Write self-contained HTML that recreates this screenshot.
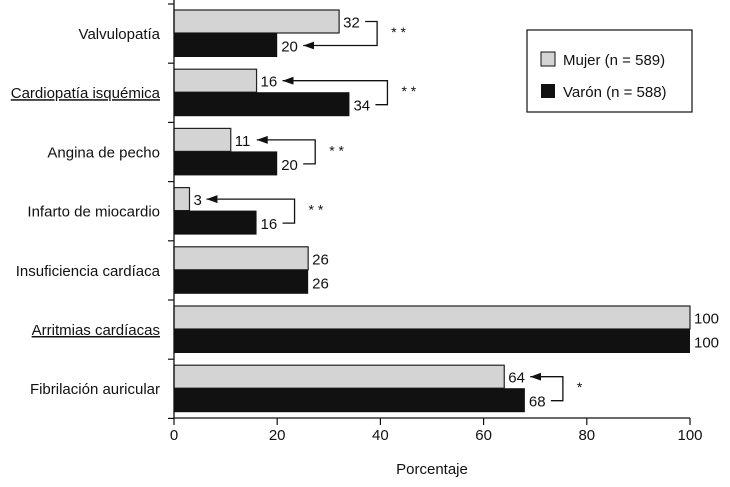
<!DOCTYPE html>
<html><head><meta charset="utf-8"><style>
body{margin:0;background:#fff}
svg text{font-family:"Liberation Sans Narrow","Liberation Sans",sans-serif;fill:#111}
</style></head><body>
<svg id="c" width="730" height="482"></svg>
<script>
const categories=["Valvulopatía","Cardiopatía isquémica","Angina de pecho","Infarto de miocardio","Insuficiencia cardíaca","Arritmias cardíacas","Fibrilación auricular"];
const mujer=[32,16,11,3,26,100,64];
const varon=[20,34,20,16,26,100,68];
const underlined=[false,true,false,false,false,true,false];
const sig=["**","**","**","**","","","*"];
const ticks=[0,20,40,60,80,100];
const svg=document.getElementById('c');
const NS="http://www.w3.org/2000/svg";
const x0=174,x1=690,top0=10,step=59.2,bh=23;
const X=v=>x0+(x1-x0)*v/100;
function el(t,a,txt){const e=document.createElementNS(NS,t);for(const k in a)e.setAttribute(k,a[k]);if(txt!==undefined)e.textContent=txt;svg.appendChild(e);return e;}
const defs=el('defs',{});
const m=document.createElementNS(NS,'marker');
m.setAttribute('id','ah');m.setAttribute('markerWidth','12');m.setAttribute('markerHeight','8');m.setAttribute('refX','11');m.setAttribute('refY','4');m.setAttribute('orient','auto');m.setAttribute('markerUnits','userSpaceOnUse');
const mp=document.createElementNS(NS,'path');mp.setAttribute('d','M0,0 L11,4 L0,8 Z');mp.setAttribute('fill','#111');m.appendChild(mp);defs.appendChild(m);
categories.forEach((c,i)=>{
 const y=top0+i*step;
 let r=el('rect',{x:x0,y:y,width:X(mujer[i])-x0,height:bh,fill:'#d4d4d4',stroke:'#222','stroke-width':1.2});
 
 r=el('rect',{x:x0,y:y+bh,width:X(varon[i])-x0,height:bh+1,fill:'#111'});
 
 let t=el('text',{x:X(mujer[i])+4,y:y+bh/2+6,'font-size':15},mujer[i]);
 
 t=el('text',{x:X(varon[i])+4,y:y+bh*1.5+7,'font-size':15},varon[i]);
 
 t=el('text',{x:160,y:y+bh+6,'font-size':15,'text-anchor':'end','text-decoration':underlined[i]?'underline':'none'},c);
 
 if(sig[i]){
  const mx=Math.max(mujer[i],varon[i]);
  const bx=X(mx)+38;
  const yl=y+bh/2, yd=y+bh*1.5+1;
  const wl=String(mujer[i]).length*9, wd=String(varon[i]).length*9;
  let d;
  if(mujer[i]>varon[i]){
   d=`M${X(mujer[i])+wl+8},${yl} H${bx} V${yd} H${X(varon[i])+wd+8}`;
  }else{
   d=`M${X(varon[i])+wd+8},${yd} H${bx} V${yl} H${X(mujer[i])+wl+8}`;
  }
  const p=el('path',{d:d,fill:'none',stroke:'#111','stroke-width':1.3,'marker-end':'url(#ah)'});
  
  t=el('text',{x:bx+14,y:y+bh+4,'font-size':14},sig[i].split('').join(' '));
  
 }
});
let a=el('line',{x1:x0,y1:0,x2:x0,y2:418,stroke:'#111','stroke-width':1.3});

a=el('line',{x1:x0,y1:418,x2:x1,y2:418,stroke:'#111','stroke-width':1.3});

for(let i=0;i<=7;i++){el('line',{x1:x0-6,y1:i*step+4,x2:x0,y2:i*step+4,stroke:'#111','stroke-width':1.2});}
ticks.forEach(v=>{
 el('line',{x1:X(v),y1:418,x2:X(v),y2:425,stroke:'#111','stroke-width':1.2});
 const t=el('text',{x:X(v),y:440,'font-size':15,'text-anchor':'middle'},v);
 
});
let t=el('text',{x:432,y:474,'font-size':15,'text-anchor':'middle'},'Porcentaje');

const g=el('rect',{x:527,y:30,width:165,height:82,fill:'#fff',stroke:'#111','stroke-width':1.2});

el('rect',{x:541,y:52,width:14,height:14,fill:'#d4d4d4',stroke:'#111'});
t=el('text',{x:563,y:65,'font-size':15},'Mujer (n = 589)');

el('rect',{x:541,y:84,width:14,height:14,fill:'#111'});
t=el('text',{x:563,y:97,'font-size':15},'Varón (n = 588)');

</script>
</body></html>
